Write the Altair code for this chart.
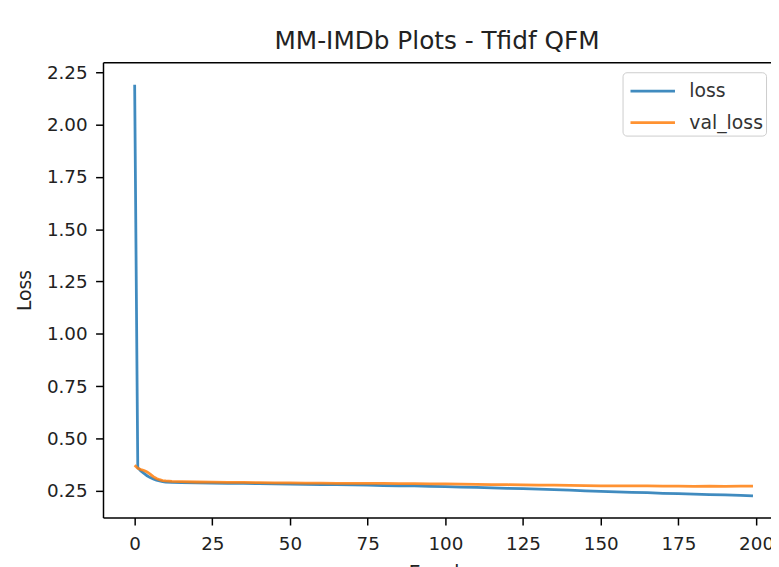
import altair as alt
import pandas as pd

epochs = [0, 1, 2, 3, 4, 5, 6, 7, 8, 9, 10, 12, 15, 20, 25, 30, 35, 40, 45, 50,
          55, 60, 65, 70, 75, 80, 85, 90, 95, 100, 105, 110, 115, 120, 125, 130,
          135, 140, 145, 150, 155, 160, 165, 170, 175, 180, 185, 190, 195, 199]

loss = [2.19, 0.36, 0.345, 0.333, 0.322, 0.313, 0.306, 0.301, 0.297, 0.294,
        0.292, 0.290, 0.289, 0.288, 0.287, 0.286, 0.285, 0.284, 0.283, 0.282,
        0.281, 0.280, 0.279, 0.278, 0.277, 0.275, 0.274, 0.273, 0.271, 0.270,
        0.268, 0.266, 0.264, 0.262, 0.260, 0.258, 0.256, 0.253, 0.250, 0.247,
        0.245, 0.243, 0.241, 0.238, 0.236, 0.234, 0.232, 0.230, 0.228, 0.226]

val_loss = [0.372, 0.358, 0.352, 0.347, 0.340, 0.330, 0.318, 0.309, 0.303, 0.299,
            0.297, 0.295, 0.294, 0.292, 0.291, 0.290, 0.290, 0.289, 0.288, 0.288,
            0.287, 0.287, 0.286, 0.286, 0.285, 0.285, 0.284, 0.284, 0.283, 0.283,
            0.282, 0.281, 0.280, 0.279, 0.278, 0.277, 0.277, 0.276, 0.275, 0.274,
            0.274, 0.273, 0.273, 0.272, 0.272, 0.271, 0.272, 0.271, 0.272, 0.272]

series_names = ["loss", "val_loss"]
series_colors = ["#1f77b4", "#ff7f0e"]
x_ticks = [0, 25, 50, 75, 100, 125, 150, 175, 200]
y_ticks = [0.25, 0.50, 0.75, 1.00, 1.25, 1.50, 1.75, 2.00, 2.25]

df = pd.DataFrame({
    "Epoch": epochs * 2,
    "Loss": loss + val_loss,
    "series": ["loss"] * len(epochs) + ["val_loss"] * len(epochs),
})

FONT = "DejaVu Sans"
x_scale = alt.Scale(domain=[-10.19, 204.8], nice=False, zero=False)
y_scale = alt.Scale(domain=[0.122, 2.297], nice=False, zero=False)

y_enc = alt.Y("Loss:Q", scale=y_scale,
              axis=alt.Axis(values=y_ticks, format=".2f", title="Loss",
                            titlePadding=12, grid=False))

base = alt.Chart(df)

lines = base.mark_line(strokeWidth=2.8, opacity=0.85).encode(
    x=alt.X("Epoch:Q", scale=x_scale,
            axis=alt.Axis(values=x_ticks, format="d", title="Epoch",
                          titlePadding=11, grid=False)),
    y=y_enc,
    color=alt.Color("series:N",
                    scale=alt.Scale(domain=series_names, range=series_colors),
                    legend=alt.Legend(title=None, orient="none", legendX=525,
                                      legendY=10, symbolType="M-1.55,0H1.55",
                                      symbolSize=841, symbolStrokeWidth=2.8,
                                      symbolOpacity=0.85,
                                      symbolOffset=11.5, labelOffset=21,
                                      padding=3, rowPadding=6,
                                      labelFontSize=19, labelFont=FONT,
                                      labelColor="#333333", fillColor="white",
                                      strokeColor="#cccccc", cornerRadius=4)),
    detail="series:N",
)

top_frame = base.mark_line(opacity=0).encode(
    x=alt.X("Epoch:Q", scale=x_scale,
            axis=alt.Axis(orient="top", labels=False, ticks=False, title=None,
                          grid=False, domain=True)),
    y=y_enc,
)

chart = alt.layer(lines, top_frame).resolve_axis(x="independent").properties(
    width=675,
    height=460,
    background="white",
    autosize=alt.AutoSizeParams(type="none"),
    padding={"left": 96, "top": 52, "right": 0, "bottom": 47},
    title=alt.TitleParams("MM-IMDb Plots - Tfidf QFM", fontSize=25,
                          fontWeight="normal", font=FONT, color="#222222",
                          offset=8, anchor="middle"),
).configure_view(stroke=None).configure_axis(
    domainColor="black", domainWidth=1.5, tickColor="black", tickWidth=1.5,
    tickSize=7.5, labelFontSize=18.5, labelFont=FONT,
    labelColor="#222222", titleFont=FONT, titleFontSize=19,
    titleFontWeight="normal", titleColor="#222222",
).configure_axisX(labelPadding=10).configure_axisY(labelPadding=8.5)

chart.save("out.html", embed_options={"renderer": "svg", "actions": False})
